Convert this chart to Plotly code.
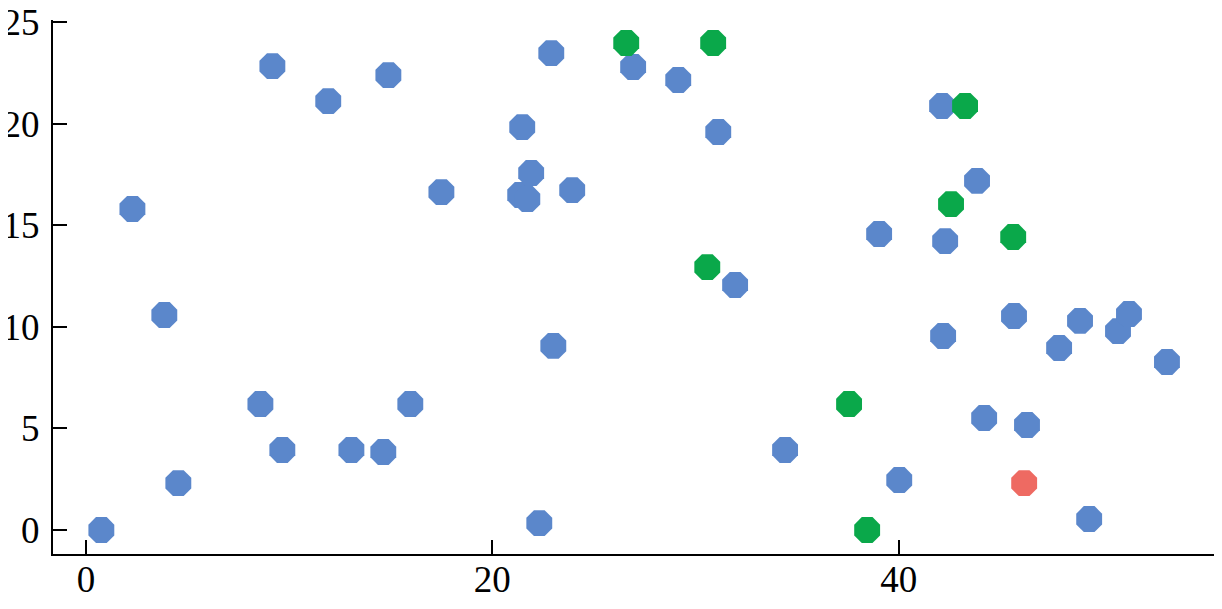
import plotly.graph_objects as go

blue_x = [0.75, 2.28, 3.85, 4.54, 8.58, 9.17, 9.66, 11.92, 13.06, 14.63, 14.88, 15.96,
          17.49, 21.47, 21.37, 21.72, 21.91, 22.31, 22.90, 23.00, 23.93, 26.93, 29.15,
          31.12, 31.95, 34.41, 39.04, 40.03, 42.14, 42.29, 42.19, 43.86, 44.21, 45.68,
          46.32, 47.90, 48.93, 49.38, 50.80, 51.34, 53.21]
blue_y = [0.00, 15.80, 10.58, 2.31, 6.20, 22.83, 3.94, 21.11, 3.94, 3.84, 22.39, 6.20,
          16.63, 19.83, 16.49, 16.29, 17.57, 0.34, 23.47, 9.06, 16.73, 22.79, 22.15,
          19.59, 12.06, 3.94, 14.57, 2.46, 20.87, 14.22, 9.55, 17.18, 5.51, 10.53,
          5.17, 8.96, 10.29, 0.54, 9.79, 10.63, 8.27]

green_x = [26.59, 30.87, 30.58, 37.56, 38.45, 43.27, 42.58, 45.64]
green_y = [23.97, 23.97, 12.94, 6.20, 0.00, 20.87, 16.04, 14.42]

red_x = [46.18]
red_y = [2.31]

x_ticks = [0, 20, 40]
y_ticks = [0, 5, 10, 15, 20, 25]

fig = go.Figure()
for xs, ys, col in [(blue_x, blue_y, "#5b87cb"), (green_x, green_y, "#0aa84a"),
                    (red_x, red_y, "#ee6a62")]:
    fig.add_trace(go.Scatter(x=xs, y=ys, mode="markers",
                             marker=dict(symbol="octagon", size=28, color=col,
                                         line=dict(width=0)),
                             showlegend=False, cliponaxis=False))

axis_font = dict(family="Liberation Serif", size=37, color="black")
fig.update_layout(
    width=1214, height=601,
    margin=dict(l=45, r=1, t=12, b=55),
    paper_bgcolor="white", plot_bgcolor="white",
    xaxis=dict(range=[-1.63, 55.87], tickvals=x_ticks, ticks="inside", ticklen=14,
               tickwidth=2, tickcolor="black", showline=True, linecolor="black",
               linewidth=2, showgrid=False, zeroline=False, tickfont=axis_font,
               ticklabelstandoff=-8, automargin=False, ticklabeloverflow="allow"),
    yaxis=dict(range=[-1.18, 25.1], tickvals=y_ticks, ticks="inside", ticklen=14,
               tickwidth=2, tickcolor="black", showline=True, linecolor="black",
               linewidth=2, showgrid=False, zeroline=False, tickfont=axis_font,
               ticklabelstandoff=4, automargin=False, ticklabeloverflow="allow"),
)
fig.write_html("out.html")
